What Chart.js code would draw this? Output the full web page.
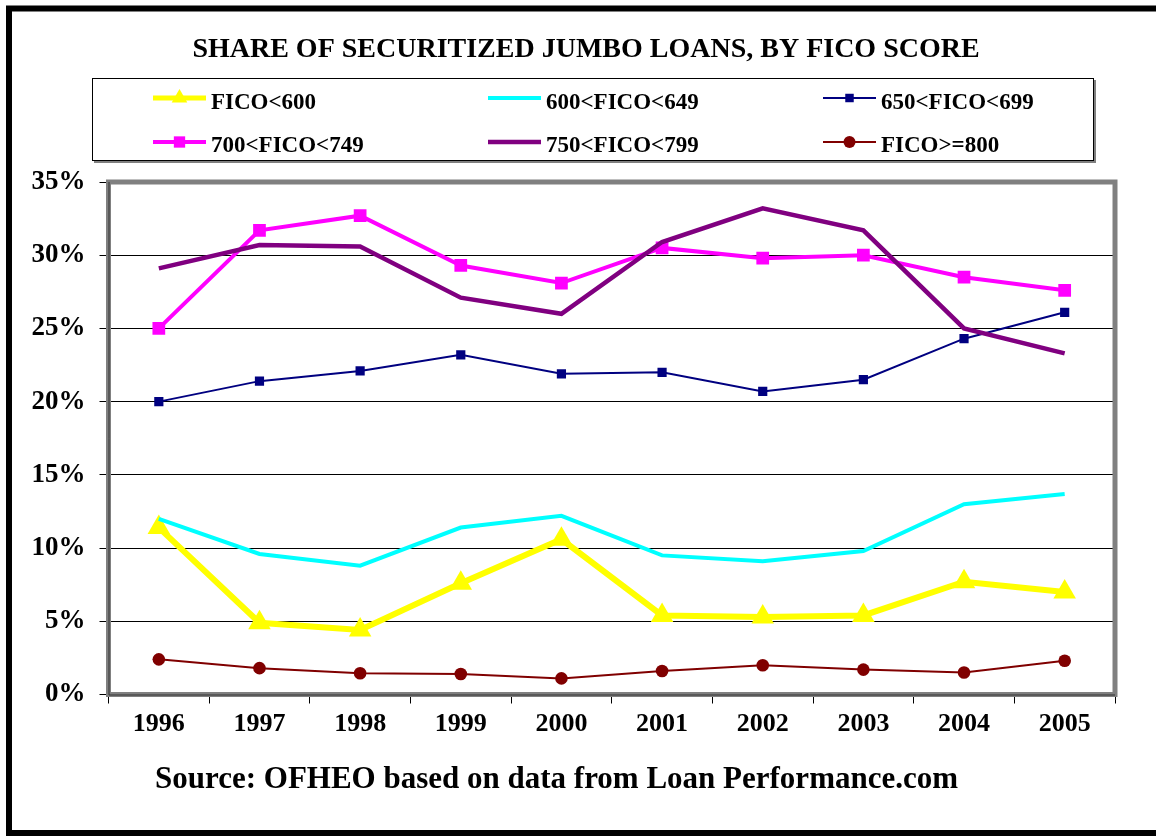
<!DOCTYPE html>
<html>
<head>
<meta charset="utf-8">
<title>Share of securitized jumbo loans, by FICO score</title>
<script src="https://cdn.jsdelivr.net/npm/chart.js@4.4.0/dist/chart.umd.min.js"></script>
<style>
    html, body { margin: 0; padding: 0; background: #fff; }
    #wrap { width: 1156px; height: 836px; position: relative; }
</style>
</head>
<body>
<div id="wrap"><canvas id="chartJumboFico" width="1156" height="836"></canvas></div>
<script>
var years = ['1996', '1997', '1998', '1999', '2000', '2001', '2002', '2003', '2004', '2005'];

var ficoUnder600 = [11.4, 4.9, 4.4, 7.6, 10.6, 5.4, 5.3, 5.4, 7.7, 7.0];
var fico600to649 = [12.0, 9.6, 8.8, 11.4, 12.2, 9.5, 9.1, 9.8, 13.0, 13.7];
var fico650to699 = [20.0, 21.4, 22.1, 23.2, 21.9, 22.0, 20.7, 21.5, 24.3, 26.1];
var fico700to749 = [25.0, 31.7, 32.7, 29.3, 28.1, 30.5, 29.8, 30.0, 28.5, 27.6];
var fico750to799 = [29.1, 30.7, 30.6, 27.1, 26.0, 30.9, 33.2, 31.7, 25.0, 23.3];
var fico800plus = [2.4, 1.8, 1.45, 1.4, 1.1, 1.6, 2.0, 1.7, 1.5, 2.3];

var seriesNames = ['FICO<600', '600<FICO<649', '650<FICO<699', '700<FICO<749', '750<FICO<799', 'FICO>=800'];
var yMin = 0, yMax = 35, yStep = 5;

var titleText = 'SHARE OF SECURITIZED JUMBO LOANS, BY FICO SCORE';
var sourceText = 'Source: OFHEO based on data from Loan Performance.com';

var serif = '"Liberation Serif", "Times New Roman", serif';

function markerPath(ctx, style, x, y, r) {
    ctx.beginPath();
    if (style === 'triangle') {
        ctx.moveTo(x, y - r);
        ctx.lineTo(x + r * 0.866, y + r * 0.5);
        ctx.lineTo(x - r * 0.866, y + r * 0.5);
        ctx.closePath();
    } else if (style === 'rect') {
        ctx.rect(x - r * 0.707, y - r * 0.707, r * 1.414, r * 1.414);
    } else {
        ctx.arc(x, y, r, 0, Math.PI * 2);
    }
}

// legend box, plot frame, title, source and page border
var decorations = {
    id: 'decorations',
    beforeDatasetsDraw: function (chart) {
        var ctx = chart.ctx, a = chart.chartArea;
        ctx.save();
        ctx.strokeStyle = '#808080';
        ctx.lineWidth = 5;
        ctx.strokeRect(a.left, a.top, a.right - a.left, a.bottom - a.top);
        ctx.strokeStyle = '#333';
        ctx.lineWidth = 1;
        ctx.beginPath();
        ctx.moveTo(a.left + 0.5, a.top);
        ctx.lineTo(a.left + 0.5, a.bottom + 0.5);
        ctx.lineTo(a.right, a.bottom + 0.5);
        ctx.stroke();
        ctx.restore();
    },
    afterDraw: function (chart) {
        var ctx = chart.ctx;
        ctx.save();

        // title
        ctx.fillStyle = '#000';
        ctx.font = 'bold 28px ' + serif;
        ctx.textAlign = 'center';
        ctx.textBaseline = 'alphabetic';
        ctx.fillText(titleText, 586, 57);

        // legend box with shadow
        ctx.fillStyle = '#808080';
        ctx.fillRect(94, 161, 1002, 2);
        ctx.fillRect(1094, 80, 2, 83);
        ctx.fillStyle = '#fff';
        ctx.fillRect(92.5, 78.5, 1001, 82);
        ctx.strokeStyle = '#000';
        ctx.lineWidth = 1;
        ctx.strokeRect(92.5, 78.5, 1001, 82);

        chart.data.datasets.forEach(function (ds, i) {
            var col = i % 3, row = Math.floor(i / 3);
            var x0 = 153 + col * 335, x1 = x0 + 53;
            var y = row === 0 ? 98 : 142;
            ctx.strokeStyle = ds.borderColor;
            ctx.lineWidth = Math.min(ds.borderWidth, 5);
            ctx.beginPath();
            ctx.moveTo(x0, y);
            ctx.lineTo(x1, y);
            ctx.stroke();
            if (ds.pointRadius > 0) {
                ctx.fillStyle = ds.pointBackgroundColor;
                markerPath(ctx, ds.pointStyle, (x0 + x1) / 2, y, ds.legendRadius);
                ctx.fill();
            }
            ctx.fillStyle = '#000';
            ctx.font = 'bold 23px ' + serif;
            ctx.textAlign = 'left';
            ctx.textBaseline = 'alphabetic';
            ctx.fillText(ds.label, x1 + 5, row === 0 ? 108.5 : 152);
        });

        // source line
        ctx.fillStyle = '#000';
        ctx.font = 'bold 31px ' + serif;
        ctx.textAlign = 'left';
        ctx.fillText(sourceText, 155, 788);

        // page border
        ctx.strokeStyle = '#000';
        ctx.lineWidth = 6;
        ctx.strokeRect(9, 8.5, 1160, 824.5);
        ctx.restore();
    }
};

var ctx = document.getElementById('chartJumboFico').getContext('2d');

var chartData = {
    labels: years,
    datasets: [{
        label: seriesNames[0],
        data: ficoUnder600,
        borderColor: '#FFFF00',
        backgroundColor: '#FFFF00',
        borderWidth: 6,
        pointStyle: 'triangle',
        pointRadius: 13,
        pointBorderWidth: 0,
        pointBackgroundColor: '#FFFF00',
        legendRadius: 9,
        order: 6
    }, {
        label: seriesNames[1],
        data: fico600to649,
        borderColor: '#00FFFF',
        backgroundColor: '#00FFFF',
        borderWidth: 4,
        pointRadius: 0,
        order: 5
    }, {
        label: seriesNames[2],
        data: fico650to699,
        borderColor: '#000080',
        backgroundColor: '#000080',
        borderWidth: 2,
        pointStyle: 'rect',
        pointRadius: 6.5,
        pointBorderWidth: 0,
        pointBackgroundColor: '#000080',
        legendRadius: 6,
        order: 4
    }, {
        label: seriesNames[3],
        data: fico700to749,
        borderColor: '#FF00FF',
        backgroundColor: '#FF00FF',
        borderWidth: 4,
        pointStyle: 'rect',
        pointRadius: 9,
        pointBorderWidth: 0,
        pointBackgroundColor: '#FF00FF',
        legendRadius: 8,
        order: 3
    }, {
        label: seriesNames[4],
        data: fico750to799,
        borderColor: '#800080',
        backgroundColor: '#800080',
        borderWidth: 4.5,
        pointRadius: 0,
        order: 2
    }, {
        label: seriesNames[5],
        data: fico800plus,
        borderColor: '#800000',
        backgroundColor: '#800000',
        borderWidth: 2,
        pointStyle: 'circle',
        pointRadius: 6.3,
        pointBorderWidth: 0,
        pointBackgroundColor: '#800000',
        legendRadius: 6,
        order: 1
    }]
};

var options = {
    responsive: false,
    animation: false,
    devicePixelRatio: 1,
    layout: {
        padding: { left: 0, right: 41, top: 182, bottom: 91.5 }
    },
    plugins: {
        legend: { display: false },
        title: { display: false },
        tooltip: { enabled: false }
    },
    elements: {
        line: { tension: 0, borderJoinStyle: 'miter' }
    },
    scales: {
        x: {
            offset: true,
            grid: {
                offset: true,
                drawOnChartArea: false,
                drawTicks: true,
                tickLength: 9,
                color: '#000'
            },
            border: { display: false },
            ticks: {
                color: '#000',
                padding: 5,
                maxRotation: 0,
                font: { family: serif, size: 26, weight: 'bold' }
            },
            afterFit: function (scale) { scale.height = 50; }
        },
        y: {
            min: yMin,
            max: yMax,
            grid: {
                color: '#000',
                lineWidth: 1,
                drawTicks: true,
                tickLength: 9
            },
            border: { display: false },
            ticks: {
                stepSize: yStep,
                color: '#000',
                padding: 14,
                font: { family: serif, size: 27, weight: 'bold' },
                callback: function (v) { return v + '%'; }
            },
            afterFit: function (scale) { scale.width = 108.5; }
        }
    }
};

var jumboChart = new Chart(ctx, {
    type: 'line',
    data: chartData,
    options: options,
    plugins: [decorations]
});
</script>
</body>
</html>
